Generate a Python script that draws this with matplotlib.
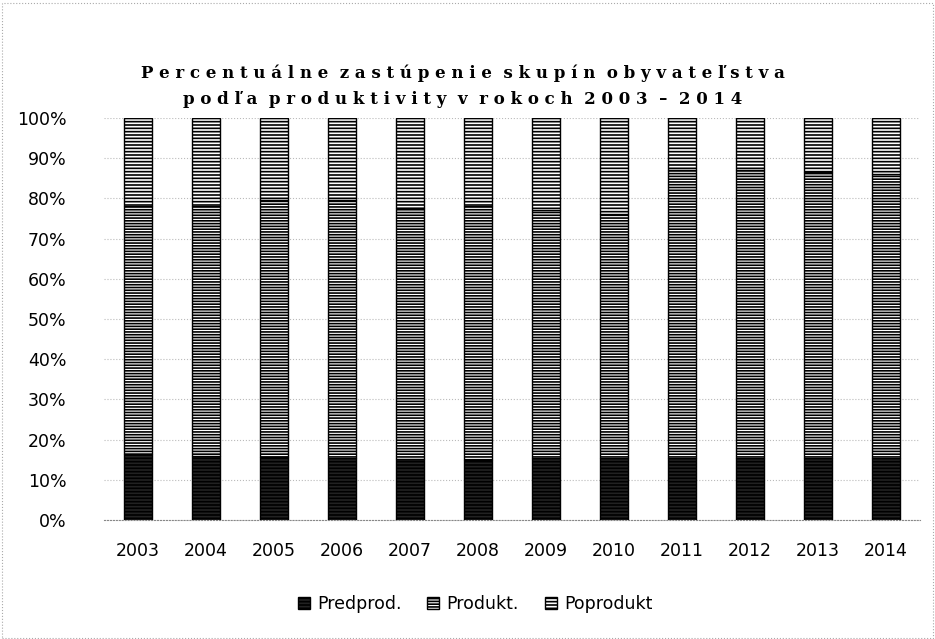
import matplotlib as mpl
mpl.use("agg")
import matplotlib.pyplot as plt
import numpy as np

mpl.rcParams['hatch.linewidth'] = 1.2

# roky a podiely skupín (%)
roky = ["2003", "2004", "2005", "2006", "2007", "2008",
        "2009", "2010", "2011", "2012", "2013", "2014"]
predprod = [16.5, 16.0, 15.6, 15.3, 15.1, 15.0, 15.3, 15.3, 15.4, 15.4, 15.4, 15.3]
produkt = [61.5, 62.0, 63.9, 64.2, 62.4, 63.0, 61.7, 60.7, 71.6, 71.6, 71.1, 70.7]
poprodukt = [22.0, 22.0, 20.5, 20.5, 22.5, 22.0, 23.0, 24.0, 13.0, 13.0, 13.5, 14.0]

fig = plt.figure(figsize=(9.35, 6.39), dpi=100)
ax = fig.add_axes([104/935, 1 - 520/639, (920-104)/935, (520-118)/639])

x = np.arange(len(roky))
sirka = 0.4
ax.bar(x, predprod, sirka, color="#222222", edgecolor="black", hatch="-----",
       linewidth=1.0, label="Predprod.", zorder=3)
dno = np.array(predprod)
ax.bar(x, produkt, sirka, bottom=dno, color="white", edgecolor="black",
       hatch="------", linewidth=1.0, label="Produkt.", zorder=3)
dno = dno + np.array(produkt)
ax.bar(x, poprodukt, sirka, bottom=dno, color="white", edgecolor="black",
       hatch="-----", linewidth=1.0, label="Poprodukt", zorder=3)

ax.set_ylim(0, 100)
ax.set_xlim(-0.5, len(roky) - 0.5)
ax.set_yticks(np.arange(0, 101, 10))
ax.set_yticklabels([str(v) + "%" for v in range(0, 101, 10)], fontsize=12.5)
ax.set_xticks(x)
ax.set_xticklabels(roky, fontsize=12.5)
ax.tick_params(length=0)
ax.tick_params(axis="x", pad=16)
ax.tick_params(axis="y", pad=27)
ax.grid(axis="y", color="#bbbbbb", linestyle=":", linewidth=0.8, zorder=0)
for s in ["top", "right", "left"]:
    ax.spines[s].set_visible(False)
ax.spines["bottom"].set_color("#888888")
ax.spines["bottom"].set_linestyle(":")

fig.text(463/935, 1 - 73/639, "P e r c e n t u á l n e  z a s t ú p e n i e  s k u p í n  o b y v a t e ľ s t v a",
         ha="center", va="center", fontsize=12, fontweight="bold", family="DejaVu Serif")
fig.text(463/935, 1 - 99/639, "p o d ľ a  p r o d u k t i v i t y  v  r o k o c h  2 0 0 3  –  2 0 1 4",
         ha="center", va="center", fontsize=12, fontweight="bold", family="DejaVu Serif")

fig.legend(loc="center", bbox_to_anchor=(475/935, 1 - 604/639), ncol=3,
           frameon=False, fontsize=12.5, handlelength=0.7, handleheight=0.7,
           columnspacing=1.5, handletextpad=0.4)

# bodkovaný okraj
fig.patches.append(plt.Rectangle((0.002, 0.002), 0.996, 0.994, transform=fig.transFigure,
                                 fill=False, edgecolor="#aaaaaa", linestyle=":", linewidth=0.8))

fig.savefig("out.png", dpi=100)
